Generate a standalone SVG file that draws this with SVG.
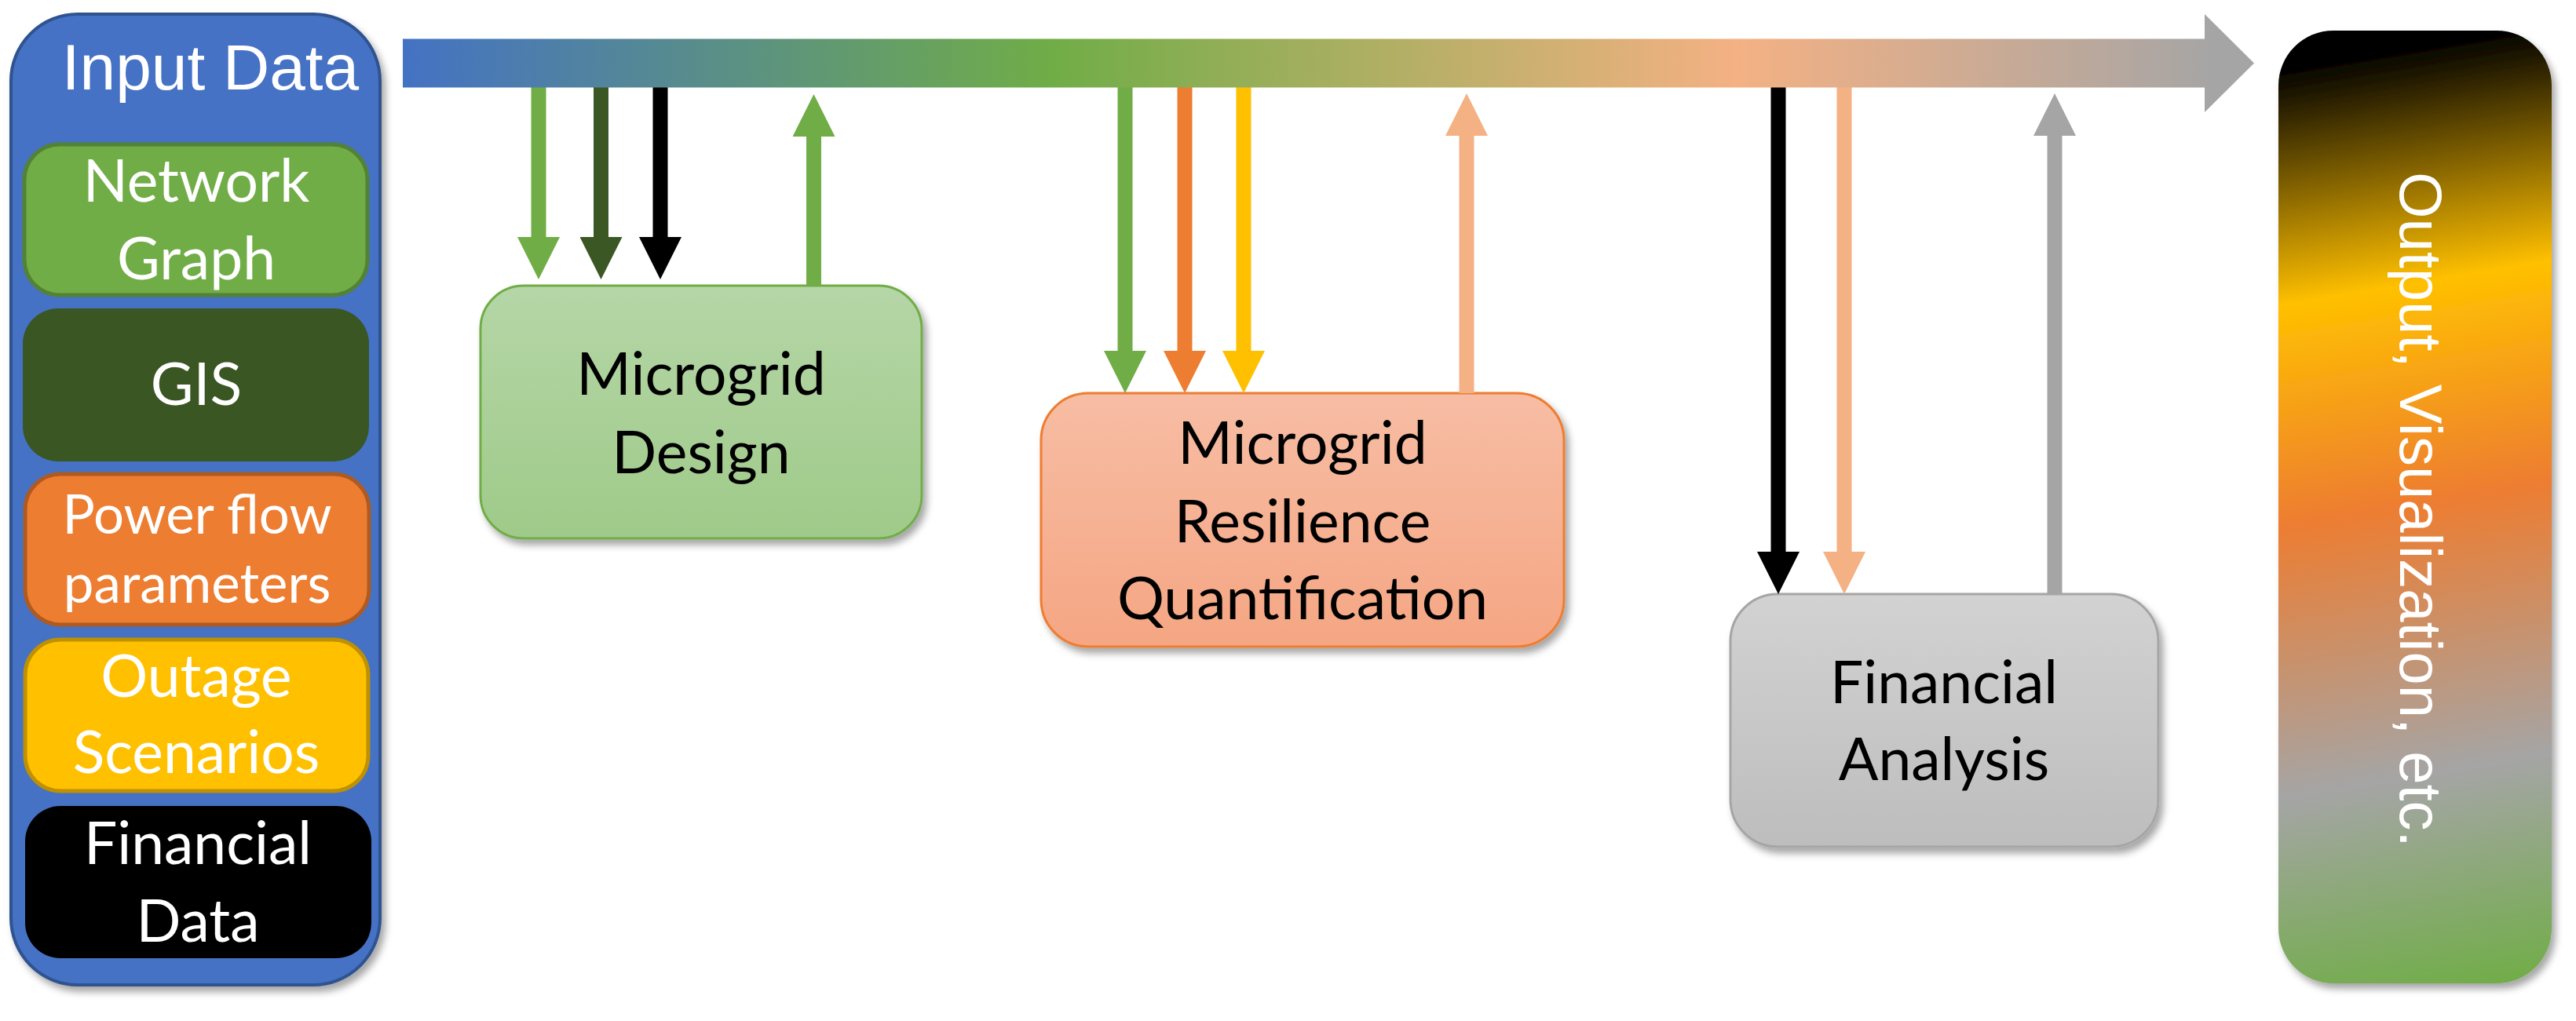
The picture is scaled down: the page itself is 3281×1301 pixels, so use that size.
<svg xmlns="http://www.w3.org/2000/svg" width="3281" height="1301" viewBox="0 0 3281 1301">
<style>
.cal{font-family:Lato,"Open Sans","Noto Sans",sans-serif;font-size:75px;text-anchor:middle}
.sm{font-size:69px}
.ari{font-family:"Liberation Sans",Arial,sans-serif;text-anchor:middle;fill:#fff}
.w{fill:#fff}
.k{fill:#000}
.sh{filter:url(#shadow)}
.conn{fill:none;stroke-width:19;stroke-linecap:butt}
</style>
<defs>
<filter id="shadow" x="-20%" y="-20%" width="140%" height="140%">
<feDropShadow dx="5" dy="7" stdDeviation="5" flood-color="#000" flood-opacity="0.35"/>
</filter>
<linearGradient id="barG" gradientUnits="userSpaceOnUse" x1="513" y1="0" x2="2871" y2="0">
<stop offset="0" stop-color="#4472C4"/>
<stop offset="0.35" stop-color="#70AD47"/>
<stop offset="0.72" stop-color="#F4B183"/>
<stop offset="0.98" stop-color="#A5A5A5"/>
</linearGradient>
<linearGradient id="designG" x1="0" y1="0" x2="0" y2="1">
<stop offset="0" stop-color="#B5D6A7"/>
<stop offset="1" stop-color="#9FCA89"/>
</linearGradient>
<linearGradient id="resG" x1="0" y1="0" x2="0" y2="1">
<stop offset="0" stop-color="#F7BDA4"/>
<stop offset="1" stop-color="#F5A683"/>
</linearGradient>
<linearGradient id="finG" x1="0" y1="0" x2="0" y2="1">
<stop offset="0" stop-color="#D2D2D2"/>
<stop offset="1" stop-color="#BDBDBD"/>
</linearGradient>
<linearGradient id="outG" gradientUnits="userSpaceOnUse" x1="3000" y1="39" x2="3207" y2="1281">
<stop offset="0.025" stop-color="#000000"/>
<stop offset="0.262" stop-color="#FFC000"/>
<stop offset="0.482" stop-color="#ED7D31"/>
<stop offset="0.754" stop-color="#A5A5A5"/>
<stop offset="0.98" stop-color="#70AD47"/>
</linearGradient>
<marker id="mGreen" markerUnits="userSpaceOnUse" markerWidth="54" markerHeight="54" viewBox="0 0 54 54" refX="0" refY="27" orient="auto"><path d="M0,0 L54,27 L0,54 Z" fill="#70AD47"/></marker>
<marker id="mDkGreen" markerUnits="userSpaceOnUse" markerWidth="54" markerHeight="54" viewBox="0 0 54 54" refX="0" refY="27" orient="auto"><path d="M0,0 L54,27 L0,54 Z" fill="#3A5724"/></marker>
<marker id="mBlack" markerUnits="userSpaceOnUse" markerWidth="54" markerHeight="54" viewBox="0 0 54 54" refX="0" refY="27" orient="auto"><path d="M0,0 L54,27 L0,54 Z" fill="#000"/></marker>
<marker id="mOrange" markerUnits="userSpaceOnUse" markerWidth="54" markerHeight="54" viewBox="0 0 54 54" refX="0" refY="27" orient="auto"><path d="M0,0 L54,27 L0,54 Z" fill="#ED7D31"/></marker>
<marker id="mYellow" markerUnits="userSpaceOnUse" markerWidth="54" markerHeight="54" viewBox="0 0 54 54" refX="0" refY="27" orient="auto"><path d="M0,0 L54,27 L0,54 Z" fill="#FFC000"/></marker>
<marker id="mPeach" markerUnits="userSpaceOnUse" markerWidth="54" markerHeight="54" viewBox="0 0 54 54" refX="0" refY="27" orient="auto"><path d="M0,0 L54,27 L0,54 Z" fill="#F4B183"/></marker>
<marker id="mGrey" markerUnits="userSpaceOnUse" markerWidth="54" markerHeight="54" viewBox="0 0 54 54" refX="0" refY="27" orient="auto"><path d="M0,0 L54,27 L0,54 Z" fill="#A5A5A5"/></marker>
</defs>
<rect width="3281" height="1301" fill="#fff"/>

<g id="input-data">
<rect class="sh" x="14" y="18" width="470" height="1237" rx="85" ry="85" fill="#4472C4" stroke="#2F528F" stroke-width="4"/>
<text class="ari" x="268" y="114" font-size="82">Input Data</text>
</g>
<g id="network-graph">
<rect x="31" y="184" width="437" height="192" rx="45" fill="#70AD47" stroke="#548235" stroke-width="5"/>
<text class="cal w" x="250" y="257">Network</text>
<text class="cal w" x="250" y="356">Graph</text>
</g>
<g id="gis">
<rect x="29" y="393" width="441" height="195" rx="45" fill="#3A5623"/>
<text class="cal w" x="250" y="516">GIS</text>
</g>
<g id="power-flow">
<rect x="32" y="604" width="438" height="192" rx="45" fill="#ED7D31" stroke="#AE5A21" stroke-width="5"/>
<text class="cal sm w" x="251" y="680">Power flow</text>
<text class="cal sm w" x="251" y="768">parameters</text>
</g>
<g id="outage">
<rect x="32" y="815" width="437" height="193" rx="45" fill="#FFC000" stroke="#BF9000" stroke-width="5"/>
<text class="cal w" x="250" y="888">Outage</text>
<text class="cal w" x="250" y="985">Scenarios</text>
</g>
<g id="financial-data">
<rect x="32" y="1027" width="441" height="194" rx="45" fill="#000"/>
<text class="cal w" x="252" y="1101">Financial</text>
<text class="cal w" x="252" y="1200">Data</text>
</g>

<g id="microgrid-design">
<rect class="sh" x="612" y="364" width="562" height="322" rx="55" fill="url(#designG)" stroke="#70AD47" stroke-width="3"/>
<text class="cal k" x="893" y="503">Microgrid</text>
<text class="cal k" x="893" y="603">Design</text>
</g>
<g id="resilience">
<rect class="sh" x="1326" y="501" width="666" height="323" rx="60" fill="url(#resG)" stroke="#ED7D31" stroke-width="3"/>
<text class="cal k" x="1659" y="591">Microgrid</text>
<text class="cal k" x="1659" y="691">Resilience</text>
<text class="cal k" x="1659" y="789">Quantification</text>
</g>
<g id="financial-analysis">
<rect class="sh" x="2204" y="757" width="545" height="322" rx="60" fill="url(#finG)" stroke="#A5A5A5" stroke-width="3"/>
<text class="cal k" x="2476" y="896">Financial</text>
<text class="cal k" x="2476" y="994">Analysis</text>
</g>
<g id="output">
<rect class="sh" x="2902" y="39" width="348" height="1214" rx="70" fill="url(#outG)"/>
<text class="ari" transform="translate(3057,649.5) rotate(90)" font-size="76">Output, Visualization, etc.</text>
</g>

<g id="connectors">
<path class="conn" d="M686,108 V302" stroke="#70AD47" marker-end="url(#mGreen)"/>
<path class="conn" d="M765.5,108 V302" stroke="#3A5724" marker-end="url(#mDkGreen)"/>
<path class="conn" d="M841,108 V302" stroke="#000" marker-end="url(#mBlack)"/>
<path class="conn" d="M1036.5,364 V174" stroke="#70AD47" marker-end="url(#mGreen)"/>
<path class="conn" d="M1433,108 V447" stroke="#70AD47" marker-end="url(#mGreen)"/>
<path class="conn" d="M1509,108 V447" stroke="#ED7D31" marker-end="url(#mOrange)"/>
<path class="conn" d="M1584,108 V447" stroke="#FFC000" marker-end="url(#mYellow)"/>
<path class="conn" d="M1868,501 V173" stroke="#F4B183" marker-end="url(#mPeach)"/>
<path class="conn" d="M2265,108 V703" stroke="#000" marker-end="url(#mBlack)"/>
<path class="conn" d="M2349,108 V703" stroke="#F4B183" marker-end="url(#mPeach)"/>
<path class="conn" d="M2617,757 V173" stroke="#A5A5A5" marker-end="url(#mGrey)"/>
<path id="main-flow" d="M513,49.5 H2808 V18 L2871,80.5 L2808,143 V111.5 H513 Z" fill="url(#barG)"/>
</g>
</svg>
